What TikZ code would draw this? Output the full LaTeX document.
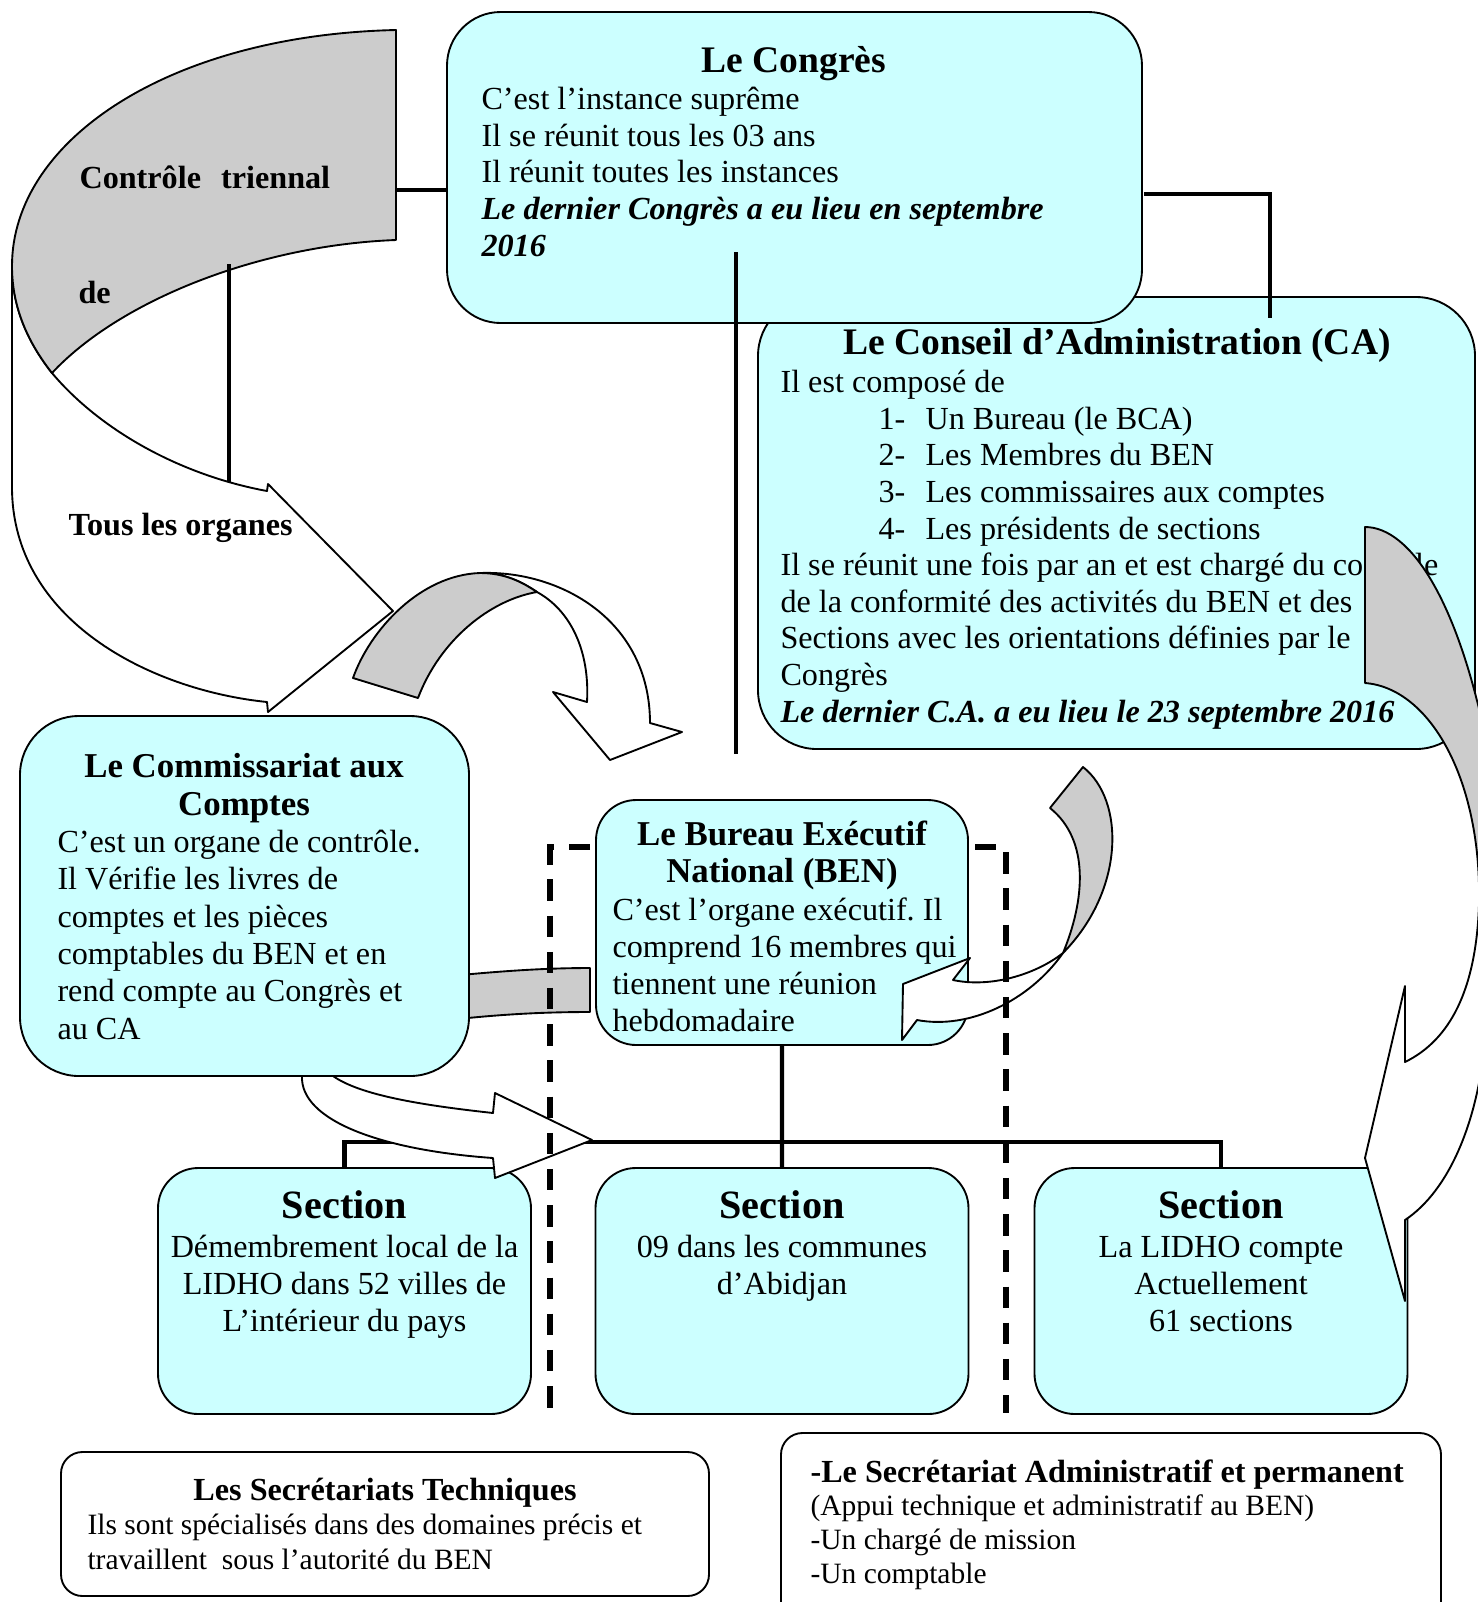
\documentclass[tikz,border=0pt]{standalone}
\usepackage{fontspec}
\setmainfont{Liberation Serif}
\usetikzlibrary{fit}
\definecolor{cyanbox}{RGB}{204,255,255}
\definecolor{grisfleche}{RGB}{204,204,204}
\frenchspacing
\begin{document}
\begin{tikzpicture}[x=0.373pt,y=-0.373pt,
	organe/.style={draw,fill=cyanbox,line width=0.7pt,rounded corners=20pt,inner sep=0pt},
	secret/.style={draw,fill=white,line width=0.7pt,rounded corners=8pt,inner sep=0pt},
	fleche/.style={draw,line width=0.7pt,line join=round},
	lien/.style={line width=1.5pt},
	pointille/.style={line width=2pt,dash pattern=on 8pt off 5.5pt},
	txt/.style={anchor=base west,inner sep=0pt,yshift=-1pt,font=\fontsize{12}{14}\selectfont},
	ctxt/.style={anchor=base,inner sep=0pt,yshift=-1pt,font=\fontsize{12}{14}\selectfont},
	gras/.style={txt,font=\fontsize{12}{14}\selectfont\bfseries\itshape},
	petit/.style={anchor=base west,inner sep=0pt,yshift=-1pt,font=\fontsize{11}{13}\selectfont},
	titre/.style={anchor=base,inner sep=0pt,yshift=-0.8pt,font=\fontsize{14}{16}\selectfont\bfseries},
	stitre/.style={titre,font=\fontsize{13}{15}\selectfont\bfseries},
	sectitre/.style={titre,yshift=0.8pt,font=\fontsize{15}{17}\selectfont\bfseries},
	boucle/.style={txt,font=\fontsize{12}{14}\selectfont\bfseries}]
	\useasboundingbox (0,0) rectangle (1478,1602);
	\clip (0,0) rectangle (1478,1602);
	% controle triennal
	\filldraw[fleche,fill=white] (12,266) -- (12,487) .. controls (12,620) and (150,690) .. (267,702) -- (268,712) -- (393,611) -- (268,484) -- (267,491)
		.. controls (180,475) and (100,430) .. (52,373) .. controls (30,345) and (12,310) .. (12,266) -- cycle;
	\filldraw[fleche,fill=grisfleche] (396,30) .. controls (170,35) and (12,140) .. (12,266) .. controls (12,310) and (30,345) .. (52,373)
		.. controls (120,300) and (260,245) .. (396,240) -- cycle;
	\node[boucle] (ctrl) at (79,186) {Contrôle\hspace{7.5pt}triennal};
	\node[boucle] (de) at (78,301) {de};
	\node[boucle] (tous) at (68,533) {Tous les organes};
	\filldraw[fleche,fill=grisfleche] (440,977) .. controls (500,971) and (545,968) .. (590,968) -- (590,1012) .. controls (545,1012) and (500,1014) .. (440,1021) -- cycle;
	% CA
	\node[organe,rounded corners=22pt,fit={(758,297) (1475,749)}] (ca) {};
	\node[titre] (catitre) at (1117,352) {Le Conseil d’Administration (CA)};
	\node[txt] (ca0) at (780,390) {Il est composé de};
	\foreach \t [count=\i] in {Un Bureau (le BCA),Les Membres du BEN,Les commissaires aux comptes,Les présidents de sections}
		{\node[txt] (canum\i) at (878,390+36.6*\i) {\i-};
		\node[txt] (caitem\i) at (925,390+36.6*\i) {\t};}
	\foreach \t [count=\i] in {Il se réunit une fois par an et est chargé du contrôle,de la conformité des activités du BEN et des,Sections avec les orientations définies par le,Congrès}
		\node[txt] (cadesc\i) at (780,536.4+36.6*\i) {\t};
	\node[gras] (cadate) at (780,719.4) {Le dernier C.A. a eu lieu le 23 septembre 2016};
	% Congres
	\node[organe,fit={(447,12) (1142,323)}] (congres) {};
	\node[titre] (cgtitre) at (794,70) {Le Congrès};
	\foreach \t [count=\i] in {C’est l’instance suprême,Il se réunit tous les 03 ans,Il réunit toutes les instances}
		\node[txt] (cg\i) at (481,70.4+36.6*\i) {\t};
	\node[gras] (cg4) at (481,216.8) {Le dernier Congrès a eu lieu en septembre};
	\node[gras] (cg5) at (481,253.4) {2016};
	% Commissariat
	\node[organe,rounded corners=22pt,fit={(20,716) (469,1076)}] (commis) {};
	\node[stitre] (cmtitre1) at (244,775) {Le Commissariat aux};
	\node[stitre] (cmtitre2) at (244,813) {Comptes};
	\foreach \t [count=\i] in {C’est un organe de contrôle.,Il Vérifie les livres de,comptes et les pièces,comptables du BEN et en,rend compte au Congrès et,au CA}
		\node[txt] (cm\i) at (57,812.7+37.3*\i) {\t};
	% BEN
	\node[organe,rounded corners=15pt,fit={(596,800) (968,1045)}] (ben) {};
	\node[stitre] (bntitre1) at (782,843) {Le Bureau Exécutif};
	\node[stitre] (bntitre2) at (782,880) {National (BEN)};
	\foreach \t [count=\i] in {C’est l’organe exécutif. Il,comprend 16 membres qui,tiennent une réunion,hebdomadaire}
		\node[txt] (bn\i) at (612,881+37*\i) {\t};
	% sections
	\foreach \cx [count=\xi] in {344.5,782,1221}
		{\node[organe,rounded corners=15pt,fit={(\cx-186.5,1168) (\cx+186.5,1414)}] (sec\xi) {};
		\node[sectitre] (sect\xi) at (\cx,1218) {Section};}
	\foreach \t [count=\i] in {Démembrement local de la,LIDHO dans 52 villes de,L’intérieur du pays}
		\node[ctxt] (sa\i) at (344.5,1218.3+36.7*\i) {\t};
	\foreach \t [count=\i] in {09 dans les communes,d’Abidjan}
		\node[ctxt] (sb\i) at (782,1218.3+36.7*\i) {\t};
	\foreach \t [count=\i] in {La LIDHO compte,Actuellement,61 sections}
		\node[ctxt] (sc\i) at (1221,1218.3+36.7*\i) {\t};
	% secretariats
	\node[secret,fit={(61,1452) (709,1596)}] (sectech) {};
	\node[ctxt,font=\fontsize{12}{14}\selectfont\bfseries] (sttitre) at (385,1498) {Les Secrétariats Techniques};
	\node[petit] (st1) at (87,1532) {Ils sont spécialisés dans des domaines précis et};
	\node[petit] (st2) at (87,1567) {travaillent\ \ sous l’autorité du BEN};
	\node[secret,fit={(781,1433) (1441,1630)}] (secadm) {};
	\node[boucle] (satitre) at (810,1480) {-Le Secrétariat Administratif et permanent};
	\foreach \t [count=\i] in {(Appui technique et administratif au BEN),-Un chargé de mission,-Un comptable}
		\node[petit] (sd\i) at (810,1479+34*\i) {\t};
	% liens
	\coordinate (grisbout) at (396,190);
	\draw[lien] (grisbout) -- (grisbout -| congres.west);
	\coordinate (cgdroite) at (1144,194);
	\coordinate (cahaut) at (1270,318);
	\draw[lien] (cgdroite) -| (cahaut);
	\coordinate (cgbas) at (736,252);
	\coordinate (benhaut) at (736,754);
	\draw[lien] (cgbas) -- (benhaut);
	\coordinate (boucle1) at (229,264);
	\coordinate (boucle2) at (229,482);
	\draw[lien] (boucle1) -- (boucle2);
	\coordinate (bus) at (782,1142);
	\draw[lien] (ben.south) -- (sec2.north);
	\draw[lien] (sec1.north) |- (bus) -| (sec3.north);
	% fleches
	\filldraw[fleche,fill=white] (480,573) .. controls (560,570) and (650,620) .. (650,723) -- (682,732) -- (610,760) -- (553,692) -- (587,702)
		.. controls (590,650) and (570,610) .. (537,592) .. controls (522,582) and (505,573) .. (480,573) -- cycle;
	\filldraw[fleche,fill=grisfleche] (353,678) .. controls (370,630) and (420,575) .. (480,573) .. controls (505,573) and (522,582) .. (537,592)
		.. controls (490,600) and (440,640) .. (418,698) -- cycle;
	\filldraw[fleche,fill=white] (302,1076) .. controls (300,1120) and (380,1150) .. (493,1158) -- (495,1178) -- (592,1140) -- (495,1093) -- (493,1113)
		.. controls (420,1105) and (360,1095) .. (333,1076) -- cycle;
	\filldraw[fleche,fill=white] (1479,905) .. controls (1476,990) and (1450,1040) .. (1405,1062) -- (1405,986) -- (1365,1158) -- (1405,1301) -- (1405,1220)
		.. controls (1450,1190) and (1478,1120) .. (1485,1040) -- (1530,1040) -- (1530,905) -- cycle;
	\filldraw[fleche,fill=grisfleche] (1365,527) .. controls (1410,527) and (1460,600) .. (1490,760) -- (1530,800) -- (1530,880) -- (1479,905)
		.. controls (1482,780) and (1430,688) .. (1365,683) -- cycle;
	\filldraw[fleche,fill=white] (1063,953) .. controls (1035,975) and (990,988) .. (953,980) -- (970,958) -- (903,984) -- (902,1040) -- (917,1020)
		.. controls (970,1030) and (1030,1000) .. (1063,953) -- cycle;
	\filldraw[fleche,fill=grisfleche] (1083,767) .. controls (1125,800) and (1125,890) .. (1063,953) .. controls (1085,900) and (1090,840) .. (1050,808) -- cycle;
	% pointilles
	\coordinate (pg1) at (590,847);
	\coordinate (pg2) at (550,1413);
	\draw[pointille] (pg1) -| (pg2);
	\coordinate (pd1) at (975,847);
	\coordinate (pd2) at (1006,1413);
	\draw[pointille] (pd1) -| (pd2);
\end{tikzpicture}
\end{document}
